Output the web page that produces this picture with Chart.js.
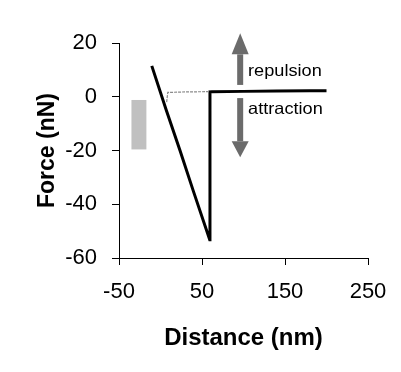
<!DOCTYPE html>
<html><head><meta charset="utf-8">
<script src="https://cdn.jsdelivr.net/npm/chart.js@4/dist/chart.umd.min.js"></script>
<style>html,body{margin:0;padding:0;background:#fff}</style>
</head><body>
<canvas id="c" width="401" height="372"></canvas>
<script>
// ---- data ----
const curveX = [-10.5, 7, 23.5, 40, 59.3, 59.6, 62, 100, 140, 180, 200];
const curveY = [11.5, -5, -20, -35.5, -53.2, 1.8, 1.9, 2.0, 2.1, 2.2, 2.2];
const jumpX  = [7.4, 8.8, 30, 59];
const jumpY  = [-2.0, 1.6, 1.8, 1.9];
const xTicks = [-50, 50, 150, 250];
const yTicks = [-60, -40, -20, 0, 20];
const boxX = [-35, -17];
const boxY = [-1.2, -19.6];
const arrowX = 96;
const arrowUp = [4.4, 23.6];
const arrowDown = [-0.5, -22.5];
const labelX = 105.5;
const labelTexts = ['repulsion', 'attraction'];
const labelY = [9.3, -4.6];

const toPts = (xs, ys) => xs.map((x, i) => ({x, y: ys[i]}));

const decor = {
  id: 'decor',
  beforeDatasetsDraw(chart) {
    const {ctx, scales: {x, y}} = chart;
    ctx.save();
    ctx.fillStyle = '#c0c0c0';
    const x0 = x.getPixelForValue(boxX[0]), x1 = x.getPixelForValue(boxX[1]);
    const y0 = y.getPixelForValue(boxY[0]), y1 = y.getPixelForValue(boxY[1]);
    ctx.fillRect(x0, y0, x1 - x0, y1 - y0);
    ctx.restore();
  },
  afterDatasetsDraw(chart) {
    const {ctx, scales: {x, y}} = chart;
    ctx.save();
    const ax = x.getPixelForValue(arrowX);
    const col = '#6b6b6b';
    function arrow(fromV, toV, headLen) {
      const yf = y.getPixelForValue(fromV), yt = y.getPixelForValue(toV);
      const dir = yt < yf ? -1 : 1;
      const base = yt - dir * headLen;
      ctx.fillStyle = col;
      ctx.fillRect(ax - 3, Math.min(yf, base), 6, Math.abs(base - yf));
      ctx.beginPath();
      ctx.moveTo(ax, yt);
      ctx.lineTo(ax - 8.5, base);
      ctx.lineTo(ax + 8.5, base);
      ctx.closePath();
      ctx.fill();
    }
    arrow(arrowUp[0], arrowUp[1], 21);
    arrow(arrowDown[0], arrowDown[1], 16);
    ctx.fillStyle = '#000';
    ctx.font = '16.5px "Liberation Sans", Arial, sans-serif';
    ctx.textBaseline = 'middle';
    ctx.textAlign = 'left';
    const lx = x.getPixelForValue(labelX);
    labelTexts.forEach((t, i) => {
      const ly = y.getPixelForValue(labelY[i]);
      ctx.save();
      ctx.translate(lx, ly);
      ctx.scale(1.1, 1);
      ctx.fillText(t, 0, 0);
      ctx.restore();
    });
    ctx.restore();
  }
};

new Chart(document.getElementById('c'), {
  type: 'scatter',
  data: {
    datasets: [
      {data: toPts(jumpX, jumpY), showLine: true, borderColor: '#8a8a8a', borderWidth: 1.2, borderDash: [3, 1], pointRadius: 0, tension: 0},
      {data: toPts(curveX, curveY), showLine: true, borderColor: '#000', borderWidth: 3, pointRadius: 0, tension: 0}
    ]
  },
  options: {
    responsive: false,
    animation: false,
    devicePixelRatio: 1,
    layout: {padding: {top: 43, right: 33, left: 0, bottom: 0}},
    plugins: {legend: {display: false}, tooltip: {enabled: false}},
    scales: {
      x: {
        type: 'linear', min: -50, max: 250,
        afterBuildTicks: s => { s.ticks = xTicks.map(v => ({value: v})); },
        afterFit: s => { s.height = 114; },
        grid: {display: true, drawOnChartArea: false, drawTicks: true, tickLength: 7, tickColor: '#000'},
        border: {display: true, color: '#000', width: 1},
        ticks: {color: '#000', padding: 14, maxRotation: 0, font: {family: '"Liberation Sans", Arial, sans-serif', size: 22}},
        title: {display: true, text: 'Distance (nm)', color: '#000', padding: {top: 19, bottom: 19}, font: {family: '"Liberation Sans", Arial, sans-serif', size: 24, weight: 'bold'}}
      },
      y: {
        type: 'linear', min: -60, max: 20,
        afterBuildTicks: s => { s.ticks = yTicks.map(v => ({value: v})); },
        afterFit: s => { s.width = 119; },
        grid: {display: true, drawOnChartArea: false, drawTicks: true, tickLength: 7, tickColor: '#000'},
        border: {display: true, color: '#000', width: 1},
        ticks: {color: '#000', padding: 15, font: {family: '"Liberation Sans", Arial, sans-serif', size: 22}},
        title: {display: true, text: 'Force (nN)', color: '#000', padding: {top: 34, bottom: 34}, font: {family: '"Liberation Sans", Arial, sans-serif', size: 23, weight: 'bold'}}
      }
    }
  },
  plugins: [decor]
});
</script>
</body></html>
